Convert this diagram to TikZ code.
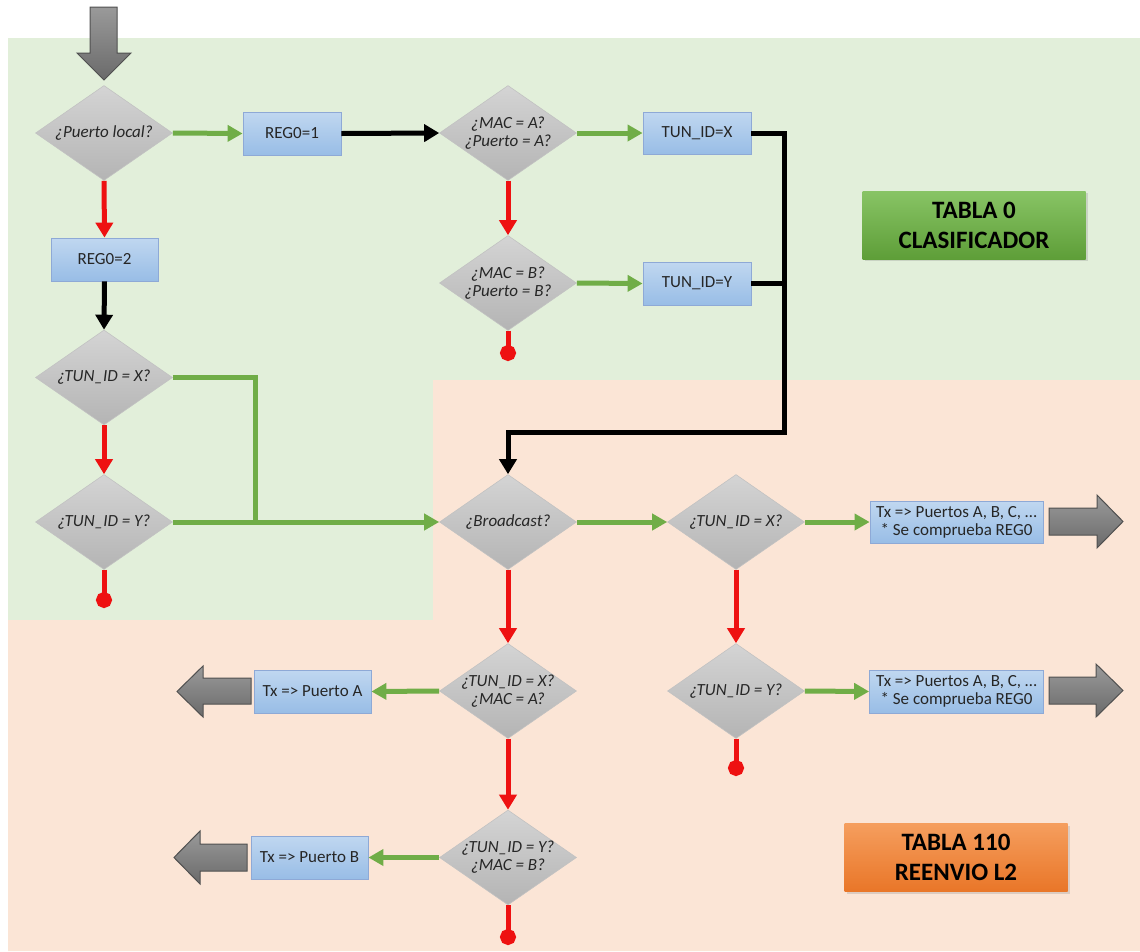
\documentclass[tikz,border=0pt]{standalone}
\usepackage{fontspec}
\setmainfont{Carlito}
\usetikzlibrary{shapes.geometric,arrows.meta,shadows}

\definecolor{bggreen}{HTML}{E2EFDA}
\definecolor{bgpeach}{HTML}{FBE5D6}
\definecolor{okgreen}{HTML}{70AD47}
\definecolor{nored}{HTML}{EE1111}
\definecolor{boxtop}{HTML}{C0D7F0}
\definecolor{boxbot}{HTML}{98BDE6}
\definecolor{boxline}{HTML}{8EA9D6}
\definecolor{diatop}{HTML}{D4D4D4}
\definecolor{diabot}{HTML}{B4B4B4}
\definecolor{diaedge}{HTML}{C2C2C2}
\definecolor{txt}{HTML}{262626}
\definecolor{arrtop}{HTML}{9A9A9A}
\definecolor{arrbot}{HTML}{6A6A6A}
\definecolor{arredge}{HTML}{505050}
\definecolor{tabgreenA}{HTML}{88C465}
\definecolor{tabgreenB}{HTML}{5E9E38}
\definecolor{taborangeA}{HTML}{F59E5E}
\definecolor{taborangeB}{HTML}{E97628}

\tikzset{
  dia/.style={diamond, minimum width=137pt, minimum height=95pt, inner sep=-9pt,
    top color=diatop, bottom color=diabot, draw=diaedge, line width=0.6pt,
    font=\fontsize{17}{18}\selectfont\itshape, text=txt, align=center},
  procbox/.style={rectangle, inner sep=0pt, top color=boxtop, bottom color=boxbot,
    draw=boxline, line width=0.8pt, font=\fontsize{17}{18}\selectfont,
    text=txt, align=center},
  tablebox/.style={rectangle, inner sep=0pt, minimum width=223pt, minimum height=68pt,
    font=\fontsize{25}{30}\selectfont\bfseries, text=black, align=center,
    drop shadow={opacity=0.25, shadow xshift=2pt, shadow yshift=-2pt}},
  conn/.style={line width=5pt, line join=miter},
  yesline/.style={conn, draw=okgreen, -{Triangle[length=15pt,width=16pt]}},
  yesplain/.style={conn, draw=okgreen},
  noline/.style={conn, draw=nored, -{Triangle[length=15pt,width=17pt]}},
  noend/.style={conn, draw=nored, -{Circle[length=16pt]}},
  flowline/.style={conn, draw=black, -{Triangle[length=15pt,width=17pt]}},
  flowplain/.style={conn, draw=black},
  bigarrow/.style={top color=arrtop, bottom color=arrbot, draw=arredge, line width=1pt, line join=miter},
}

\begin{document}
\begin{tikzpicture}[x=1pt,y=-1pt]
\useasboundingbox (0,0) rectangle (1140,951);

% table regions
\fill[bggreen] (8,38) -- (1140,38) -- (1140,380) -- (433,380) -- (433,620) -- (8,620) -- cycle;
\fill[bgpeach] (433,380) -- (1140,380) -- (1140,951) -- (8,951) -- (8,620) -- (433,620) -- cycle;

% entry arrow
\shade[bigarrow] (90,7) -- (117,7) -- (117,53) -- (131,53) -- (104,80) -- (77,53) -- (90,53) -- cycle;

% table titles
\node[tablebox, top color=tabgreenA, bottom color=tabgreenB] (tab0) at (974,225) {TABLA 0\\CLASIFICADOR};
\node[tablebox, top color=taborangeA, bottom color=taborangeB] (tab110) at (956,857.5) {TABLA 110\\REENVIO L2};

% decisions
\node[dia] (dlocal) at (104,133) {¿Puerto local?};
\node[dia] (dmaca) at (508,133) {¿MAC = A?\\¿Puerto = A?};
\node[dia] (dmacb) at (508,283) {¿MAC = B?\\¿Puerto = B?};
\node[dia] (dtx) at (104,377.5) {¿TUN\_ID = X?};
\node[dia] (dty) at (104,522) {¿TUN\_ID = Y?};
\node[dia] (dbc) at (508,522) {¿Broadcast?};
\node[dia] (dtx2) at (736,522) {¿TUN\_ID = X?};
\node[dia] (dty2) at (736,691) {¿TUN\_ID = Y?};
\node[dia] (dxa) at (508,691) {¿TUN\_ID = X?\\¿MAC = A?};
\node[dia] (dyb) at (508,857.5) {¿TUN\_ID = Y?\\¿MAC = B?};

% actions
\node[procbox, minimum width=98pt, minimum height=43pt] (reg1) at (292,133.5) {REG0=1};
\node[procbox, minimum width=107pt, minimum height=43pt] (reg2) at (104.5,259.5) {REG0=2};
\node[procbox, minimum width=108pt, minimum height=42pt] (tunx) at (697,133) {TUN\_ID=X};
\node[procbox, minimum width=108pt, minimum height=43pt] (tuny) at (697,283.5) {TUN\_ID=Y};
\node[procbox, minimum width=173pt, minimum height=42pt] (txall1) at (956.5,522) {Tx => Puertos A, B, C, …\\* Se comprueba REG0};
\node[procbox, minimum width=174pt, minimum height=43pt] (txall2) at (956.5,691.5) {Tx => Puertos A, B, C, …\\* Se comprueba REG0};
\node[procbox, minimum width=117pt, minimum height=43pt] (txa) at (312.5,691.5) {Tx => Puerto A};
\node[procbox, minimum width=117pt, minimum height=43pt] (txb) at (309.5,857.5) {Tx => Puerto B};

% exit arrows
\shade[bigarrow] (1049,508) -- (1097,508) -- (1097,495) -- (1123,521.5) -- (1097,548) -- (1097,535) -- (1049,535) -- cycle;
\shade[bigarrow] (1049,677) -- (1096,677) -- (1096,664) -- (1123,690.5) -- (1096,717) -- (1096,704) -- (1049,704) -- cycle;
\shade[bigarrow] (251,678) -- (203,678) -- (203,666) -- (177,691.5) -- (203,717) -- (203,704) -- (251,704) -- cycle;
\shade[bigarrow] (247,844) -- (200,844) -- (200,831) -- (174,857.5) -- (200,884) -- (200,871) -- (247,871) -- cycle;

% helper points
\coordinate (join) at (255,522);
\coordinate (bend) at (784,432);
\coordinate (endA) at (508,361);
\coordinate (endB) at (104,608);
\coordinate (endC) at (736,776);
\coordinate (endD) at (508,945);

% yes branches
\draw[yesline] (dlocal.east) -- (reg1.west);
\draw[yesline] (dmaca.east) -- (tunx.west);
\draw[yesline] (dmacb.east) -- (tuny.west);
\draw[yesplain] (dtx.east) -| (join);
\draw[yesline] (dty.east) -- (dbc.west);
\draw[yesline] (dbc.east) -- (dtx2.west);
\draw[yesline] (dtx2.east) -- (txall1.west);
\draw[yesline] (dty2.east) -- (txall2.west);
\draw[yesline] (dxa.west) -- (txa.east);
\draw[yesline] (dyb.west) -- (txb.east);

% no branches
\draw[noline] (dlocal.south) -- (reg2.north);
\draw[noline] (dmaca.south) -- (dmacb.north);
\draw[noline] (dtx.south) -- (dty.north);
\draw[noline] (dbc.south) -- (dxa.north);
\draw[noline] (dxa.south) -- (dyb.north);
\draw[noline] (dtx2.south) -- (dty2.north);
\draw[noend] (dmacb.south) -- (endA);
\draw[noend] (dty.south) -- (endB);
\draw[noend] (dty2.south) -- (endC);
\draw[noend] (dyb.south) -- (endD);

% sequence flow
\draw[flowline] (reg1.east) -- (dmaca.west);
\draw[flowline] (reg2.south) -- (dtx.north);
\draw[flowline] (tunx.east) -| (bend) -| (dbc.north);
\draw[flowplain] (tuny.east) -- (tuny.east -| bend);
\end{tikzpicture}
\end{document}
